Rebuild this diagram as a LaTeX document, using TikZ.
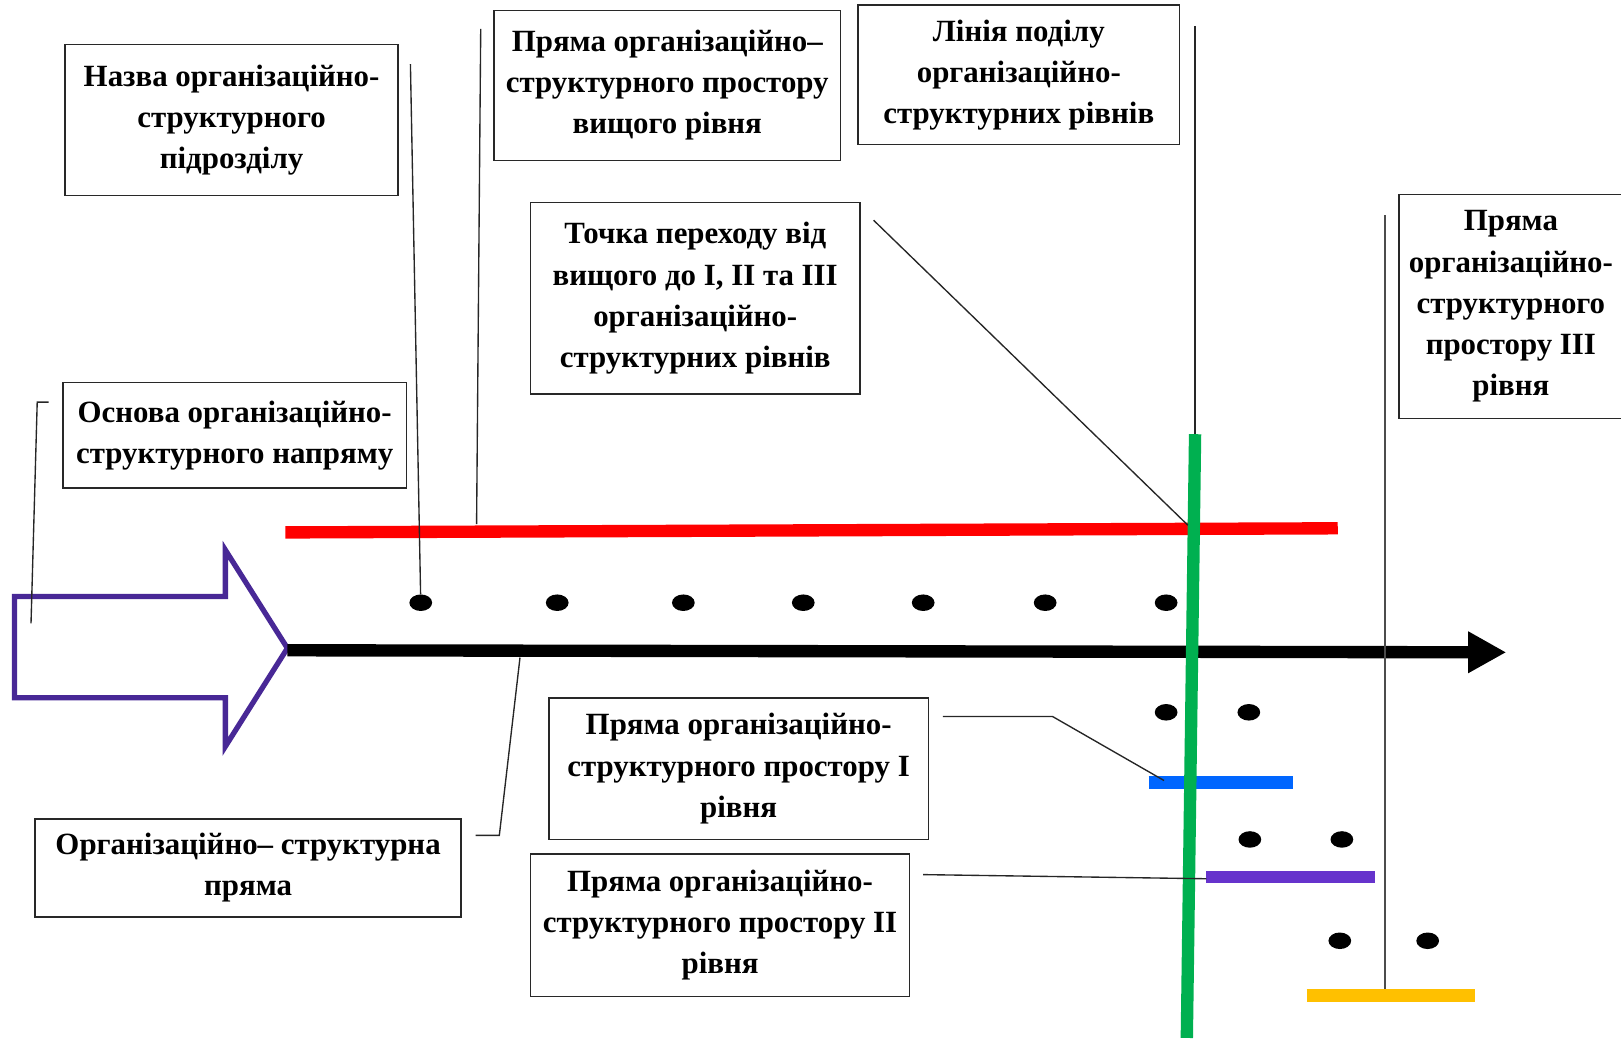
\documentclass[tikz,border=0pt]{standalone}
\usepackage{fontspec}
\setmainfont{Liberation Serif}
\usetikzlibrary{arrows.meta,shapes.geometric}
\definecolor{hollowarrow}{RGB}{72,40,150}
\definecolor{lvlgreen}{RGB}{0,176,80}
\definecolor{lvlblue}{RGB}{0,102,255}
\definecolor{lvlpurple}{RGB}{102,51,204}
\definecolor{lvlyellow}{RGB}{255,192,0}
\definecolor{boxline}{RGB}{40,40,40}
\tikzset{
  lbl/.style={draw=boxline, line width=0.8pt, align=center, inner sep=2pt,
    font=\bfseries\fontsize{17}{22.7}\selectfont},
  conn/.style={draw=black!85, line width=0.75pt},
  dotmark/.style={ellipse, fill=black, inner sep=0pt, minimum width=0.44cm, minimum height=0.32cm},
  band/.style={line width=6.8pt},
}
\begin{document}
\begin{tikzpicture}[x=0.02cm, y=-0.02cm]
\useasboundingbox (0,0) rectangle (1568,1005);

% label boxes
\node[lbl, minimum width=6.44cm, minimum height=2.92cm] (b1) at (224,116)
  {Назва організаційно-\\структурного\\підрозділу};
\node[lbl, minimum width=6.64cm, minimum height=2.04cm] (b2) at (227,421)
  {Основа організаційно-\\структурного напряму};
\node[lbl, minimum width=6.70cm, minimum height=2.90cm] (b3) at (645.5,82.5)
  {Пряма організаційно–\\структурного простору\\вищого рівня};
\node[lbl, minimum width=6.22cm, minimum height=2.70cm] (b4) at (985.5,72.5)
  {Лінія поділу\\організаційно-\\структурних рівнів};
\node[lbl, minimum width=6.38cm, minimum height=3.70cm] (b5) at (672.5,288.5)
  {Точка переходу від\\вищого до І, ІІ та ІІІ\\організаційно-\\структурних рівнів};
\node[lbl, minimum width=4.34cm, minimum height=4.34cm] (b6) at (1461.5,296.5)
  {Пряма\\організаційно-\\структурного\\простору ІІІ\\рівня};
\node[lbl, minimum width=8.24cm, minimum height=1.90cm] (b7) at (240,839.5)
  {Організаційно– структурна\\пряма};
\node[lbl, minimum width=7.34cm, minimum height=2.74cm] (b8) at (714.5,743.5)
  {Пряма організаційно-\\структурного простору І\\рівня};
\node[lbl, minimum width=7.34cm, minimum height=2.76cm] (b9) at (696.5,895)
  {Пряма організаційно-\\структурного простору ІІ\\рівня};

% hollow direction arrow
\draw[hollowarrow, line width=2.9pt, line join=miter]
  (14,577) -- (218,577) -- (218,532) -- (278,627) -- (218,722) -- (218,675) -- (14,675) -- cycle;

% level lines
\coordinate (redL) at (276,515);
\coordinate (redR) at (1294,511);
\coordinate (grT) at (1156,420);
\coordinate (grB) at (1148,1004);
\coordinate (blL) at (1111,757);
\coordinate (blR) at (1251,757);
\coordinate (puL) at (1167,848);
\coordinate (puR) at (1330,848);
\coordinate (yeL) at (1264,963);
\coordinate (yeR) at (1427,963);
\draw[band, red] (redL) -- (redR);
\draw[band, lvlblue] (blL) -- (blR);
\draw[band, lvlpurple] (puL) -- (puR);
\draw[band, lvlyellow] (yeL) -- (yeR);

% main structural line
\coordinate (axS) at (278,629);
\coordinate (axE) at (1457,631);
\draw[line width=6.8pt, -{Triangle[length=21pt, width=21.5pt]}] (axS) -- (axE);

% dividing line
\draw[band, lvlgreen] (grT) -- (grB);

% units along the lines
\foreach \n/\x/\y in {1/407/583, 2/539/583, 3/661/583, 4/777/583, 5/893/583, 6/1011/583, 7/1128/583,
  8/1128/689, 9/1208/689, 10/1209/812, 11/1298/812, 12/1296/910, 13/1381/910}
  \node[dotmark] (d\n) at (\x,\y) {};

% callout lines
\coordinate (c1) at (397,62);
\draw[conn] (c1) -- (d1);
\coordinate (c3a) at (465,28);
\coordinate (c3b) at (461,507);
\draw[conn] (c3a) -- (c3b);
\coordinate (c4) at (1156,25);
\draw[conn] (c4) -- (grT);
\coordinate (c5) at (845,213);
\coordinate (cross) at (1149,508);
\draw[conn] (c5) -- (cross);
\coordinate (c2a) at (47,389);
\coordinate (c2b) at (36,389);
\coordinate (c2c) at (30,603);
\draw[conn] (c2a) -- (c2b) -- (c2c);
\coordinate (c7a) at (460,808);
\coordinate (c7b) at (483,808);
\coordinate (c7c) at (503,636);
\draw[conn] (c7a) -- (c7b) -- (c7c);
\coordinate (c8a) at (912,693);
\coordinate (c8b) at (1018,693);
\coordinate (c8c) at (1126,755);
\draw[conn] (c8a) -- (c8b) -- (c8c);
\coordinate (c9a) at (893,846);
\coordinate (c9b) at (1167,850);
\draw[conn] (c9a) -- (c9b);
\coordinate (c6a) at (1340,208);
\coordinate (c6b) at (1340,957);
\draw[draw=black!70, line width=0.9pt] (c6a) -- (c6b);
\end{tikzpicture}
\end{document}
